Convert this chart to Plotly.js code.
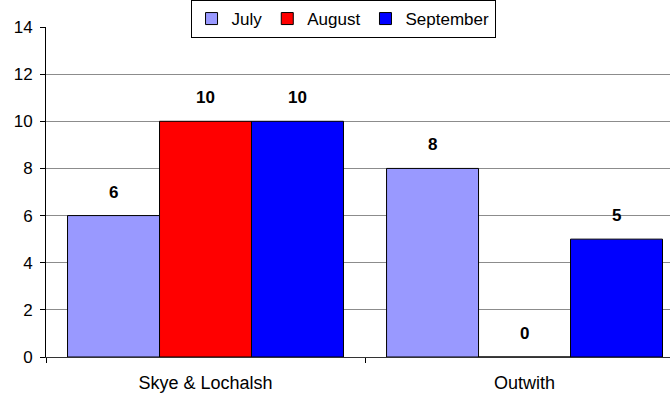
<!DOCTYPE html>
<html>
<head>
<meta charset="utf-8">
<script src="https://cdn.plot.ly/plotly-3.0.1.min.js"></script>
<style>
  html, body { margin: 0; padding: 0; background: #fff; }
  #chart { width: 670px; height: 401px; }
</style>
</head>
<body>
<div id="chart"></div>
<script>
// chart data
var areas = ["Skye & Lochalsh", "Outwith"];
var months = ["July", "August", "September"];
var july = [6, 8];
var august = [10, 0];
var september = [10, 5];
var colours = ["#9999ff", "#ff0000", "#0000ff"];

var series = [july, august, september];
var bargap = 0.135;
var barW = (1 - bargap) / series.length;

var traces = [];
var notes = [];
series.forEach(function(vals, j){
  traces.push({
    type: "bar",
    name: months[j],
    x: areas,
    y: vals,
    marker: {color: colours[j], line: {color: "#000", width: 1}},
    hoverinfo: "skip"
  });
  // labels above each bar, placed in data units
  vals.forEach(function(v, i){
    notes.push({
      x: i + (j - 1) * barW, y: v, xref: "x", yref: "y",
      text: "<b>" + v + "</b>", showarrow: false,
      yanchor: "bottom", yshift: 12,
      font: {family: "Liberation Sans, Arial", size: 17, color: "#000"}
    });
  });
});

var layout = {
  width: 670, height: 401,
  margin: {l: 46, r: 0, t: 27, b: 44, autoexpand: false},
  paper_bgcolor: "#fff", plot_bgcolor: "#fff",
  font: {family: "Liberation Sans, Arial", size: 17, color: "#000"},
  barmode: "group",
  bargap: bargap, bargroupgap: 0,
  showlegend: true,
  legend: {
    orientation: "h", xref: "container", yref: "container",
    x: 0.512, xanchor: "center", y: 1, yanchor: "top",
    bordercolor: "#000", borderwidth: 1, bgcolor: "#fff",
    font: {size: 17}, itemwidth: 30, tracegroupgap: 0,
    traceorder: "normal"
  },
  xaxis: {
    type: "category",
    range: [-0.5, 1.456],
    tickson: "boundaries",
    ticks: "outside", ticklen: 5, tickcolor: "#000",
    showline: true, linecolor: "#333", linewidth: 1,
    showgrid: false, zeroline: false,
    tickfont: {size: 18},
    ticklabelstandoff: 9,
    fixedrange: true
  },
  yaxis: {
    range: [0, 14], dtick: 2,
    ticks: "outside", ticklen: 5, tickcolor: "#000",
    showline: true, linecolor: "#000", linewidth: 1,
    gridcolor: "#8c8c8c", gridwidth: 1,
    zeroline: false,
    ticklabelstandoff: 4,
    fixedrange: true
  },
  annotations: notes
};

Plotly.newPlot("chart", traces, layout, {staticPlot: true, displayModeBar: false});
</script>
</body>
</html>
